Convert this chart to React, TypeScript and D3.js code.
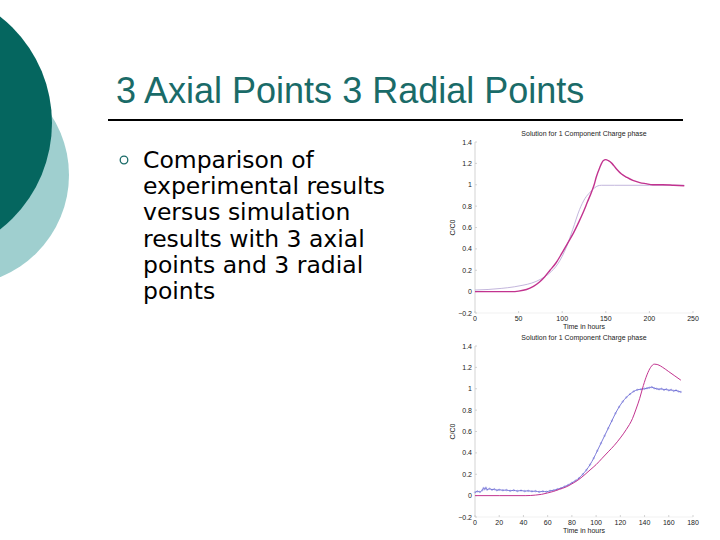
import React from "react";
import * as d3 from "d3";

// ---- Data ----
const titleText = "3 Axial Points 3 Radial Points";
const bulletLines = [
  "Comparison of",
  "experimental results",
  "versus simulation",
  "results with 3 axial",
  "points and 3 radial",
  "points",
];
const chartTitle = "Solution for 1 Component Charge phase";
const xLabel = "Time in hours";
const yLabel = "C/C0";
const yTicks = [-0.2, 0, 0.2, 0.4, 0.6, 0.8, 1, 1.2, 1.4];
const xTicksTop = [0, 50, 100, 150, 200, 250];
const xTicksBottom = [0, 20, 40, 60, 80, 100, 120, 140, 160, 180];

// Top chart: thick magenta curve
const topMagentaT = [0, 20, 42, 50, 59, 67, 74, 80, 86, 93, 99, 106, 113, 119, 124, 129, 134, 137, 139, 143, 147, 150, 153, 157, 162, 168, 174, 181, 189, 196, 204, 215, 228, 240];
const topMagentaV = [0, 0, 0, 0.005, 0.02, 0.05, 0.09, 0.14, 0.2, 0.27, 0.35, 0.45, 0.55, 0.65, 0.74, 0.84, 0.94, 1.01, 1.07, 1.16, 1.225, 1.235, 1.225, 1.2, 1.15, 1.1, 1.07, 1.04, 1.02, 1.01, 1.0, 1.0, 0.995, 0.99];
// Top chart: thin lavender curve
const topThinT = [0, 15, 30, 45, 55, 65, 75, 85, 95, 105, 112, 120, 126, 132, 137, 141, 145, 160, 200, 240];
const topThinV = [0.015, 0.02, 0.03, 0.045, 0.06, 0.08, 0.115, 0.17, 0.26, 0.42, 0.58, 0.77, 0.87, 0.93, 0.97, 0.99, 0.995, 0.995, 0.995, 0.995];

// Bottom chart: magenta simulation
const botMagentaT = [0, 20, 42, 50, 55, 60, 65, 70, 75, 80, 85, 90, 95, 100, 105, 110, 115, 120, 125, 130, 133, 136, 139, 142, 145, 148, 151, 155, 160, 165, 170];
const botMagentaV = [0, 0, 0, 0.005, 0.012, 0.025, 0.04, 0.06, 0.08, 0.11, 0.145, 0.19, 0.24, 0.29, 0.35, 0.41, 0.47, 0.54, 0.62, 0.72, 0.81, 0.91, 1.03, 1.13, 1.2, 1.23, 1.225, 1.2, 1.16, 1.12, 1.08];
// Bottom chart: blue experimental (noisy trace)
const botBlueT = [0, 2, 4, 6, 7, 8, 9, 10, 12, 14, 16, 18, 20, 23, 26, 29, 32, 35, 38, 41, 44, 47, 50, 53, 56, 59, 62, 65, 68, 71, 74, 77, 80, 83, 86, 89, 92, 95, 98, 101, 104, 107, 110, 113, 116, 119, 122, 125, 128, 131, 134, 137, 140, 142, 144, 146, 148, 150, 152, 154, 156, 158, 160, 162, 164, 166, 168, 170];
const botBlueV = [0.03, 0.04, 0.035, 0.05, 0.07, 0.06, 0.075, 0.055, 0.065, 0.055, 0.06, 0.05, 0.055, 0.05, 0.052, 0.045, 0.05, 0.043, 0.048, 0.042, 0.045, 0.04, 0.042, 0.035, 0.04, 0.036, 0.045, 0.05, 0.06, 0.07, 0.085, 0.1, 0.12, 0.14, 0.165, 0.2, 0.24, 0.29, 0.35, 0.42, 0.49, 0.56, 0.63, 0.7, 0.77, 0.83, 0.88, 0.92, 0.95, 0.975, 0.99, 0.995, 1.0, 1.005, 1.01, 1.015, 1.005, 1.0, 0.995, 1.0, 0.99, 0.995, 0.985, 0.99, 0.98, 0.985, 0.975, 0.97];

const FONT = "'Liberation Sans', Arial, sans-serif";

type Series = { t: number[]; v: number[]; color: string; width: number; markers?: boolean };

function MiniChart(props: {
  top: number;
  xMax: number;
  xTicks: number[];
  series: Series[];
}) {
  const { top, xMax, xTicks, series } = props;
  const x = d3.scaleLinear().domain([0, xMax]).range([475, 693]);
  const y = d3.scaleLinear().domain([-0.2, 1.4]).range([top + 171, top]);
  const line = d3
    .line<[number, number]>()
    .x((d) => x(d[0]))
    .y((d) => y(d[1]))
    .curve(d3.curveMonotoneX);
  const axisColor = "#c8c8c8";
  const fs = 7;
  return (
    <g>
      <text x={584} y={top - 6} fontSize={fs} fontFamily={FONT} textAnchor="middle" fill="#222">
        {chartTitle}
      </text>
      <line x1={x(0)} x2={x(0)} y1={y(1.4)} y2={y(-0.2)} stroke={axisColor} strokeWidth={0.8} />
      <line x1={x(0)} x2={x(xMax)} y1={y(-0.2)} y2={y(-0.2)} stroke="#eeeeee" strokeWidth={0.8} />
      {yTicks.map((t) => (
        <g key={"y" + t}>
          <line x1={x(0)} x2={x(0) + 2} y1={y(t)} y2={y(t)} stroke={axisColor} strokeWidth={0.8} />
          <text x={x(0) - 3} y={y(t) + 2.5} fontSize={fs} fontFamily={FONT} textAnchor="end" fill="#222">
            {d3.format("")(Math.round(t * 10) / 10)}
          </text>
        </g>
      ))}
      {xTicks.map((t) => (
        <g key={"x" + t}>
          <line x1={x(t)} x2={x(t)} y1={y(-0.2)} y2={y(-0.2) - 2} stroke={axisColor} strokeWidth={0.8} />
          <text x={x(t)} y={y(-0.2) + 8} fontSize={fs} fontFamily={FONT} textAnchor="middle" fill="#222">
            {t}
          </text>
        </g>
      ))}
      <text x={584} y={y(-0.2) + 16} fontSize={fs} fontFamily={FONT} textAnchor="middle" fill="#222">
        {xLabel}
      </text>
      <text
        transform={`translate(455,${(y(1.4) + y(-0.2)) / 2}) rotate(-90)`}
        fontSize={fs}
        fontFamily={FONT}
        textAnchor="middle"
        fill="#222"
      >
        {yLabel}
      </text>
      {series.map((s, i) => {
        const pts = s.t.map((t, j) => [t, s.v[j]] as [number, number]);
        return (
          <g key={i}>
            <path d={line(pts) || ""} fill="none" stroke={s.color} strokeWidth={s.width} />
            {s.markers &&
              pts.map((p, j) => (
                <circle key={j} cx={x(p[0])} cy={y(p[1])} r={0.8} fill="none" stroke={s.color} strokeWidth={0.4} opacity={0.8} />
              ))}
          </g>
        );
      })}
    </g>
  );
}

export default function App() {
  const teal = "#1a6b68";
  return (
    <svg
      width={720}
      height={540}
      viewBox="0 0 720 540"
      style={{ position: "absolute", left: 0, top: 0, background: "#fff" }}
    >
      <rect x={0} y={0} width={720} height={540} fill="#fff" />
      <circle cx={-41} cy={175} r={110} fill="#9fcfcf" />
      <circle cx={-83} cy={123} r={135} fill="#05665f" />
      <text x={116} y={103} fontSize={36} fontFamily={FONT} fill={teal}>
        {titleText}
      </text>
      <line x1={108} x2={683} y1={120} y2={120} stroke="#000" strokeWidth={2} />
      <circle cx={124} cy={160} r={3.8} fill="none" stroke={teal} strokeWidth={1.3} />
      {bulletLines.map((l, i) => (
        <text key={i} x={143} y={168 + i * 26.2} fontSize={23.5} fontFamily="'DejaVu Sans', Verdana, sans-serif" fill="#000">
          {l}
        </text>
      ))}
      <MiniChart
        top={142}
        xMax={250}
        xTicks={xTicksTop}
        series={[
          { t: topThinT, v: topThinV, color: "#bcaed8", width: 0.9 },
          { t: topMagentaT, v: topMagentaV, color: "#c2338f", width: 1.4 },
        ]}
      />
      <MiniChart
        top={346}
        xMax={180}
        xTicks={xTicksBottom}
        series={[
          { t: botBlueT, v: botBlueV, color: "#5b5bd0", width: 0.8, markers: true },
          { t: botMagentaT, v: botMagentaV, color: "#c2338f", width: 1.0 },
        ]}
      />
    </svg>
  );
}
